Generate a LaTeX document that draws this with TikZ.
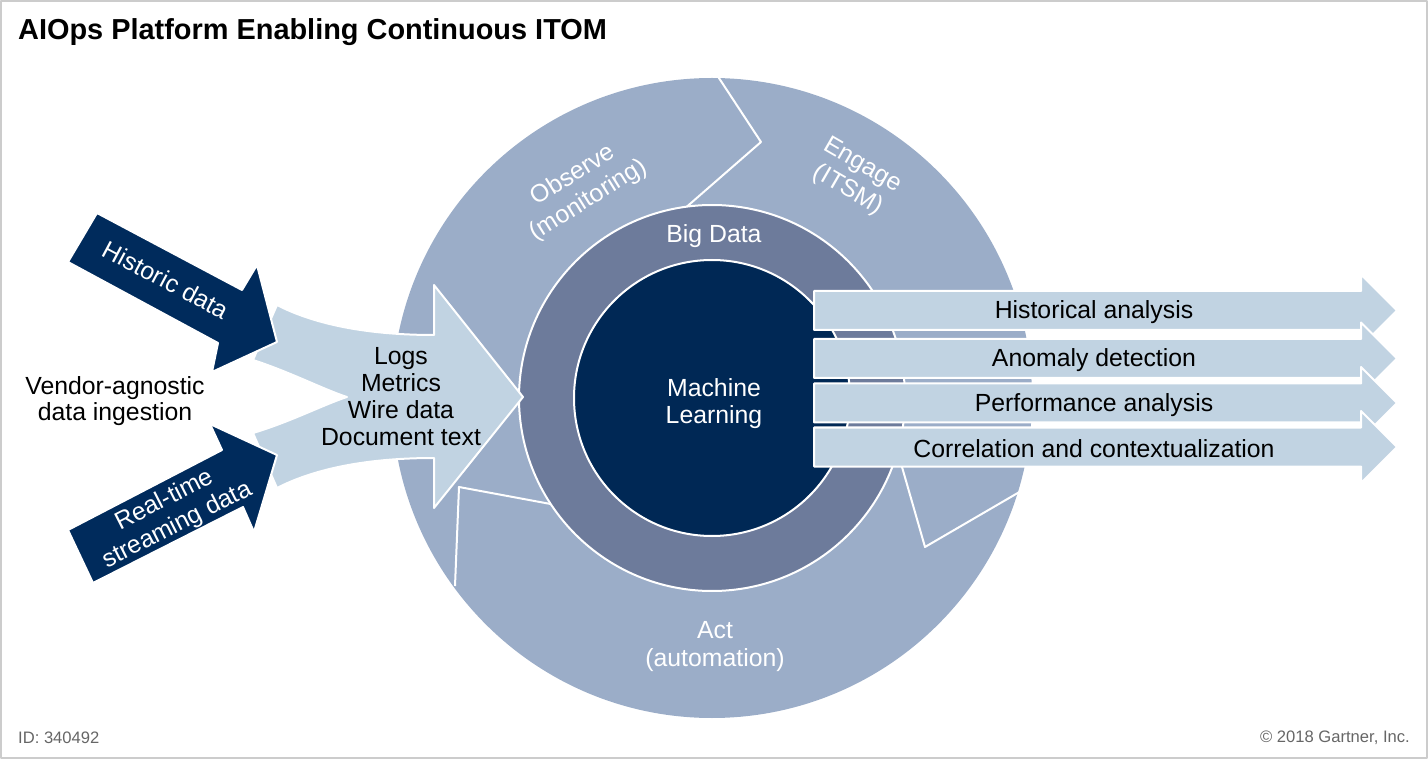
\documentclass[tikz,border=0pt]{standalone}
\usepackage{fontspec}
\setmainfont{Liberation Sans}
\definecolor{ringout}{HTML}{9BADC8}
\definecolor{ringmid}{HTML}{6D7B9B}
\definecolor{navy}{HTML}{002855}
\definecolor{darkarrow}{HTML}{002B5C}
\definecolor{lightarrow}{HTML}{C1D3E2}
\definecolor{framegray}{HTML}{CCCCCC}
\definecolor{footgray}{HTML}{666666}
\begin{document}
\begin{tikzpicture}[x=1pt,y=-1pt,line join=round,
		txt/.style={font=\fontsize{24.8}{27}\selectfont,align=center,inner sep=0pt},
		wtxt/.style={txt,text=white},
		outarrow/.style={fill=lightarrow,draw=white,line width=2pt},
		inarrow/.style={fill=darkarrow,draw=white,line width=2pt},
		chevron/.style={white,line width=2pt}]
		\useasboundingbox (0,0) rectangle (1428,759);
		\draw[framegray,line width=1.5pt] (1,1) rectangle (1427,758);
		\node[anchor=west,inner sep=0pt,font=\bfseries\fontsize{28.9}{32}\selectfont] (title) at (18,32) {AIOps Platform Enabling Continuous ITOM};
		% rings
		\coordinate (c) at (712,398);
		\fill[ringout] (c) circle (320);
		\draw[chevron] (715,72)--(761,142)--(683,210);
		\draw[chevron] (1028,487)--(925,547)--(900,460);
		\draw[chevron] (455,586)--(459,487)--(556,505);
		\draw[white,line width=2pt,fill=ringmid] (c) circle (193);
		\draw[white,line width=2pt,fill=navy] (c) circle (138);
		\node[wtxt] (bigdata) at (714,236) {Big Data};
		\node[wtxt] (ml) at (714,404) {Machine\\Learning};
		\node[wtxt,rotate=32,font=\fontsize{24.8}{29}\selectfont] (observe) at (581,188) {Observe\\(monitoring)};
		\node[wtxt,rotate=-30,font=\fontsize{24.8}{29}\selectfont] (engage) at (855,178) {Engage\\(ITSM)};
		\node[wtxt,font=\fontsize{24.8}{28}\selectfont] (act) at (715,647) {Act\\(automation)};
		% input arrows
		\draw[fill=lightarrow,draw=white,line width=2pt] (347,397) .. controls (325,390) and (290,372) .. (253,360)
		-- (277,305) .. controls (310,322) and (360,335) .. (434,335)
		-- (434,285) -- (523,397) -- (434,508) -- (434,458)
		.. controls (360,458) and (310,471) .. (277,488)
		-- (253,433) .. controls (290,422) and (325,404) .. cycle;
		\node[txt] (sources) at (401,397) {Logs\\Metrics\\Wire data\\Document text};
		\draw[inarrow] (97,213) -- (242,290) -- (257,265) -- (277,342) -- (212,372) -- (218,343) -- (68,262) -- cycle;
		\draw[inarrow] (68,530) -- (222,450) -- (210,424) -- (277,455) -- (254,532) -- (243,507) -- (93,583) -- cycle;
		\node[wtxt,rotate=-28] (historic) at (166,280) {Historic data};
		\node[wtxt,rotate=27,font=\fontsize{24.8}{28}\selectfont] (realtime) at (171,513) {Real-time\\streaming data};
		\node[txt,font=\fontsize{24.8}{26}\selectfont] (vendor) at (115,401) {Vendor-agnostic\\data ingestion};
		% output arrows
		\foreach \y/\t [count=\i] in {310.5/Historical analysis,358.5/Anomaly detection,403/Performance analysis,447/Correlation and contextualization}{
			\draw[outarrow] (814,\y-19.5) -- (1361,\y-19.5) -- (1361,\y-36) -- (1397,\y) -- (1361,\y+36) -- (1361,\y+19.5) -- (814,\y+19.5) -- cycle;
			\node[txt] (out\i) at (1094,\y+2) {\t};
		}
		\node[anchor=west,inner sep=0pt,text=footgray,font=\fontsize{16.6}{19}\selectfont] (id) at (18,738) {ID: 340492};
		\node[anchor=east,inner sep=0pt,text=footgray,font=\fontsize{16.6}{19}\selectfont] (copy) at (1410,738) {© 2018 Gartner, Inc.};
\end{tikzpicture}
\end{document}
